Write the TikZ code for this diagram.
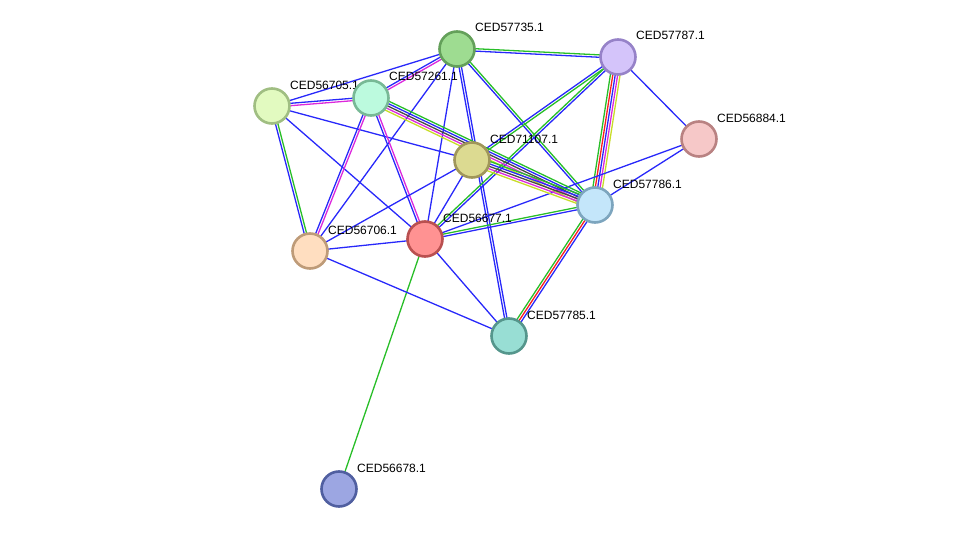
\documentclass[tikz,border=0pt]{standalone}
\usepackage{fontspec}
\setmainfont{Liberation Sans}
\usetikzlibrary{calc}
\pgfdeclarelayer{edges}
\pgfdeclarelayer{labels}
\pgfsetlayers{edges,labels,main}
\definecolor{eb}{RGB}{40,40,250}
\definecolor{eg}{RGB}{40,190,40}
\definecolor{em}{RGB}{220,40,220}
\definecolor{er}{RGB}{250,30,30}
\definecolor{ey}{RGB}{200,220,40}
\definecolor{ek}{RGB}{70,70,70}
\definecolor{f735}{RGB}{158,220,145}\definecolor{d735}{RGB}{100,160,90}
\definecolor{f787}{RGB}{212,196,250}\definecolor{d787}{RGB}{150,130,200}
\definecolor{f705}{RGB}{226,250,192}\definecolor{d705}{RGB}{160,190,130}
\definecolor{f261}{RGB}{188,250,222}\definecolor{d261}{RGB}{120,185,150}
\definecolor{f107}{RGB}{220,218,145}\definecolor{d107}{RGB}{160,150,90}
\definecolor{f884}{RGB}{246,200,200}\definecolor{d884}{RGB}{185,130,130}
\definecolor{f786}{RGB}{196,230,250}\definecolor{d786}{RGB}{125,165,190}
\definecolor{f677}{RGB}{255,146,146}\definecolor{d677}{RGB}{185,80,80}
\definecolor{f706}{RGB}{255,222,192}\definecolor{d706}{RGB}{190,155,120}
\definecolor{f785}{RGB}{152,222,212}\definecolor{d785}{RGB}{85,150,140}
\definecolor{f678}{RGB}{156,166,226}\definecolor{d678}{RGB}{80,95,160}
\tikzset{
  prot/.style={circle, minimum size=35pt, inner sep=0pt, line width=2.6pt, fill=f#1, draw=d#1},
  lab/.style={anchor=base west, font=\fontsize{12}{12}\selectfont, inner sep=0pt},
  edgeline/.style={line width=1.3pt}
}
\newcommand\lnk[3]{\foreach \o/\c in {#3}{\draw[edgeline,\c] ($(#1.center)!\o*2.4pt!90:(#2.center)$) -- ($(#2.center)!\o*2.4pt!-90:(#1.center)$);}}
\newcommand\plab[2]{\node[lab] at ($(#1.center)+(18,-17)$) {#2};}
\begin{document}
\begin{tikzpicture}[x=1pt,y=-1pt]
\useasboundingbox (0,0) rectangle (975,535);
% nodes
\node[prot=735] (a735) at (457,49) {};
\node[prot=787] (a787) at (618,57) {};
\node[prot=705] (a705) at (272,106) {};
\node[prot=261] (a261) at (371,98) {};
\node[prot=107] (a107) at (472,160) {};
\node[prot=884] (a884) at (699,139) {};
\node[prot=786] (a786) at (595,205) {};
\node[prot=677] (a677) at (425,239) {};
\node[prot=706] (a706) at (310,251) {};
\node[prot=785] (a785) at (509,336) {};
\node[prot=678] (a678) at (339,489) {};
% labels
\begin{pgfonlayer}{labels}
\plab{a735}{CED57735.1}
\plab{a787}{CED57787.1}
\plab{a705}{CED56705.1}
\plab{a261}{CED57261.1}
\plab{a107}{CED71107.1}
\plab{a884}{CED56884.1}
\plab{a786}{CED57786.1}
\plab{a677}{CED56677.1}
\plab{a706}{CED56706.1}
\plab{a785}{CED57785.1}
\plab{a678}{CED56678.1}
\end{pgfonlayer}
% edges
\begin{pgfonlayer}{edges}
\lnk{a735}{a787}{0.5/eg,-0.5/eb}
\lnk{a735}{a261}{0.5/em,-0.5/eb}
\lnk{a735}{a705}{0/eb}
\lnk{a735}{a706}{0/eb}
\lnk{a735}{a677}{0/eb}
\lnk{a735}{a785}{-0.5/eb,0.5/eb}
\lnk{a735}{a786}{0.5/eg,-0.5/eb}
\lnk{a787}{a107}{-0.5/eb,0.5/eg}
\lnk{a787}{a677}{-0.5/eg,0.5/eb}
\lnk{a787}{a786}{-2/eg,-1/er,0/eb,1/em,2/ey}
\lnk{a787}{a884}{0/eb}
\lnk{a884}{a786}{0/eb}
\lnk{a884}{a677}{0/eb}
\lnk{a705}{a261}{0.5/eb,-0.5/em}
\lnk{a705}{a107}{0/eb}
\lnk{a705}{a677}{0/eb}
\lnk{a705}{a706}{-0.5/eb,0.5/eg}
\lnk{a261}{a706}{-0.5/eb,0.5/em}
\lnk{a261}{a677}{-0.5/eb,0.5/em}
\lnk{a261}{a786}{2/eg,1/eb,0/ek,-1/em,-2/ey}
\lnk{a107}{a786}{2/eg,1/eb,0/ek,-1/em,-2/ey}
\lnk{a107}{a706}{0/eb}
\lnk{a107}{a677}{0/eb}
\lnk{a786}{a677}{-0.5/eg,0.5/eb}
\lnk{a786}{a785}{-1/eg,0/er,1/eb}
\lnk{a677}{a785}{0/eb}
\lnk{a677}{a706}{0/eb}
\lnk{a677}{a678}{0/eg}
\lnk{a706}{a785}{0/eb}
\end{pgfonlayer}
\end{tikzpicture}
\end{document}
